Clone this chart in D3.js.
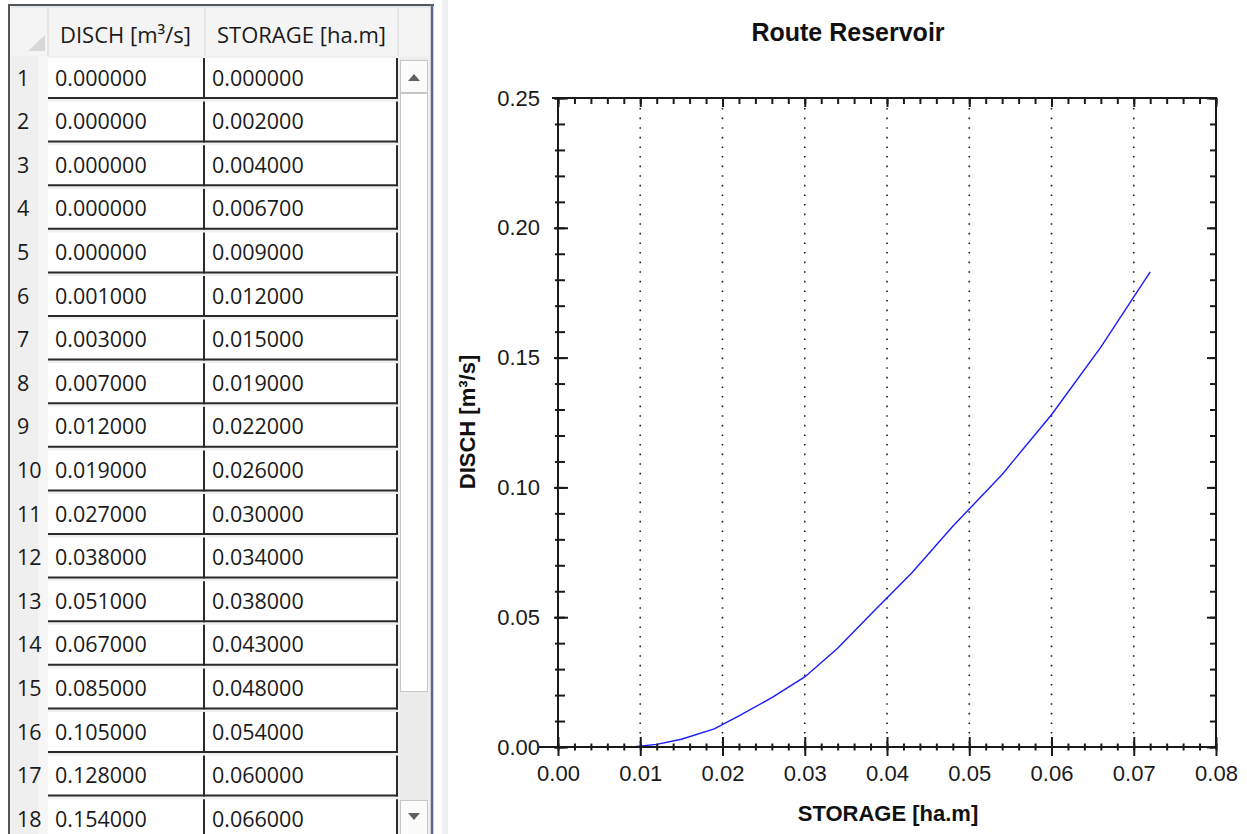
<!DOCTYPE html>
<html>
<head>
<meta charset="utf-8">
<script src="https://cdn.jsdelivr.net/npm/d3@7/dist/d3.min.js"></script>
<style>
  html, body { margin: 0; padding: 0; background: #ffffff; }
  svg { display: block; }
</style>
</head>
<body>
<svg id="view" width="1247" height="834"></svg>
<script>
// Reservoir routing table: discharge vs. storage
const columnHeaders = ["DISCH [m³/s]", "STORAGE [ha.m]"];
const disch   = [0.000, 0.000, 0.000, 0.000, 0.000, 0.001, 0.003, 0.007, 0.012, 0.019,
                 0.027, 0.038, 0.051, 0.067, 0.085, 0.105, 0.128, 0.154, 0.183];
const storage = [0.000, 0.002, 0.004, 0.0067, 0.009, 0.012, 0.015, 0.019, 0.022, 0.026,
                 0.030, 0.034, 0.038, 0.043, 0.048, 0.054, 0.060, 0.066, 0.072];

const chartTitle = "Route Reservoir";
const xTitle = "STORAGE [ha.m]";
const yTitle = "DISCH [m³/s]";
const xDomain = [0, 0.08];
const yDomain = [0, 0.25];
const xMajorTicks = [0, 0.01, 0.02, 0.03, 0.04, 0.05, 0.06, 0.07, 0.08];
const yMajorTicks = [0, 0.05, 0.10, 0.15, 0.20, 0.25];
const gridTicks = [0.01, 0.02, 0.03, 0.04, 0.05, 0.06, 0.07];

const svg = d3.select("#view");
const fmtCell = d3.format(".6f");

// ---------------- data grid panel ----------------
const grid = svg.append("g").attr("class", "grid-panel");
const tableFont = "'Open Sans', 'Noto Sans', sans-serif";

// panel background and frame
grid.append("rect").attr("x", 8).attr("y", 4).attr("width", 426).attr("height", 840)
  .attr("fill", "#f0f0f0");
// header band
grid.append("rect").attr("x", 10).attr("y", 7).attr("width", 422).attr("height", 49)
  .attr("fill", "#f4f4f4");
// row-number column
grid.append("rect").attr("x", 10).attr("y", 56).attr("width", 38).attr("height", 790)
  .attr("fill", "#efefef");
grid.append("rect").attr("x", 38).attr("y", 56).attr("width", 10).attr("height", 790)
  .attr("fill", "#f6f6f6");
// corner triangle
grid.append("path").attr("d", "M28,51 L45,51 L45,35 Z").attr("fill", "#d8d8d8");

const colX = [48, 205, 398];
// header separators + labels
colX.forEach(xv => {
  grid.append("line").attr("x1", xv).attr("x2", xv).attr("y1", 8).attr("y2", 56)
    .attr("stroke", "#e2e2e2").attr("stroke-width", 1.5);
});
grid.selectAll("text.hdr").data(columnHeaders).join("text")
  .attr("class", "hdr")
  .attr("x", (d, i) => colX[i] + 12)
  .attr("y", 43)
  .attr("font-family", tableFont).attr("font-size", 22).attr("fill", "#1a1a1a")
  .text(d => d);

// body rows
const rowTop = i => 58 + i * 43.6;
const rows = grid.selectAll("g.row").data(disch.map((d, i) => ({ d, s: storage[i], i })))
  .join("g").attr("class", "row")
  .attr("transform", r => `translate(0,${rowTop(r.i)})`);

rows.append("rect").attr("x", 48).attr("y", 0).attr("width", 350).attr("height", 40)
  .attr("fill", "#ffffff");
// cell right borders
rows.append("line").attr("x1", 204).attr("x2", 204).attr("y1", 0).attr("y2", 41)
  .attr("stroke", "#2a2a2a").attr("stroke-width", 2);
rows.append("line").attr("x1", 397).attr("x2", 397).attr("y1", 0).attr("y2", 41)
  .attr("stroke", "#2a2a2a").attr("stroke-width", 2);
// cell bottom border
rows.append("line").attr("x1", 48).attr("x2", 398).attr("y1", 40).attr("y2", 40)
  .attr("stroke", "#2a2a2a").attr("stroke-width", 2);
// row number and cell values
const textBase = 27.5;
rows.append("text").attr("x", 17).attr("y", textBase)
  .attr("font-family", tableFont).attr("font-size", 21.5).attr("fill", "#1a1a1a")
  .text(r => r.i + 1);
rows.append("text").attr("x", 55).attr("y", textBase)
  .attr("font-family", tableFont).attr("font-size", 21.5).attr("fill", "#1a1a1a")
  .text(r => fmtCell(r.d));
rows.append("text").attr("x", 212).attr("y", textBase)
  .attr("font-family", tableFont).attr("font-size", 21.5).attr("fill", "#1a1a1a")
  .text(r => fmtCell(r.s));

// vertical scrollbar
const sb = grid.append("g").attr("class", "scrollbar");
sb.append("rect").attr("x", 400).attr("y", 58).attr("width", 28).attr("height", 780)
  .attr("fill", "#ebebeb");
sb.append("rect").attr("x", 400.5).attr("y", 60.5).attr("width", 27).attr("height", 32)
  .attr("fill", "#fbfbfb").attr("stroke", "#c6c6c6");
sb.append("path").attr("d", "M408,81 L420,81 L414,74 Z").attr("fill", "#606060");
sb.append("rect").attr("x", 400.5).attr("y", 93.5).attr("width", 27).attr("height", 598)
  .attr("fill", "#ffffff").attr("stroke", "#c6c6c6");
sb.append("rect").attr("x", 400.5).attr("y", 800.5).attr("width", 27).attr("height", 40)
  .attr("fill", "#fbfbfb").attr("stroke", "#c6c6c6");
sb.append("path").attr("d", "M408,813 L420,813 L414,820 Z").attr("fill", "#606060");

// frame lines
grid.append("line").attr("x1", 9).attr("x2", 9).attr("y1", 4).attr("y2", 834)
  .attr("stroke", "#555555").attr("stroke-width", 2);
grid.append("line").attr("x1", 8).attr("x2", 434).attr("y1", 5).attr("y2", 5)
  .attr("stroke", "#555555").attr("stroke-width", 2);
grid.append("line").attr("x1", 432).attr("x2", 432).attr("y1", 4).attr("y2", 834)
  .attr("stroke", "#56698a").attr("stroke-width", 2.5);
grid.append("line").attr("x1", 11).attr("x2", 430).attr("y1", 7).attr("y2", 7)
  .attr("stroke", "#d5e1ee").attr("stroke-width", 1);
// splitter strip
svg.append("rect").attr("x", 442).attr("y", 0).attr("width", 6).attr("height", 834)
  .attr("fill", "#f0f0f0");

// ---------------- chart ----------------
const chartFont = "'Liberation Sans', Arial, sans-serif";
const x = d3.scaleLinear().domain(xDomain).range([558, 1216]);
const y = d3.scaleLinear().domain(yDomain).range([747, 98]);
const chart = svg.append("g").attr("class", "chart");

const xMinor = d3.range(0, 41).map(i => +(i * 0.002).toFixed(3));
const yMinor = d3.range(0, 26).map(i => +(i * 0.01).toFixed(2));

// dotted vertical grid
chart.selectAll("line.vgrid").data(gridTicks).join("line")
  .attr("class", "vgrid")
  .attr("x1", d => x(d)).attr("x2", d => x(d))
  .attr("y1", y(yDomain[1]) + 10).attr("y2", y(0))
  .attr("stroke", "#222").attr("stroke-width", 1.6)
  .attr("stroke-dasharray", "1.6,8");

// series line
const line = d3.line().x((d, i) => x(storage[i])).y(d => y(d));
chart.append("path").datum(disch)
  .attr("d", line)
  .attr("fill", "none").attr("stroke", "#1a1aff").attr("stroke-width", 1.4);

// helper: style an axis group
function styleAxis(g) {
  g.selectAll(".domain").remove();
  g.selectAll("line").attr("stroke", "#1a1a1a").attr("stroke-width", 2);
  g.selectAll("text").attr("font-family", chartFont).attr("font-size", 22).attr("fill", "#1a1a1a");
}

// bottom: minor ticks crossing the axis
chart.append("g").attr("transform", `translate(0,${y(0)})`)
  .call(d3.axisBottom(x).tickValues(xMinor).tickSize(3.5).tickFormat(""))
  .call(styleAxis)
  .call(g => g.selectAll("line").attr("y1", -3.5));
chart.append("g").attr("transform", `translate(0,${y(0)})`)
  .call(d3.axisBottom(x).tickValues(xMajorTicks).tickSize(9).tickPadding(9)
    .tickFormat(d3.format(".2f")))
  .call(styleAxis)
  .call(g => g.selectAll("line").attr("y1", -10));

// top: inward ticks
chart.append("g").attr("transform", `translate(0,${y(yDomain[1])})`)
  .call(d3.axisBottom(x).tickValues(xMinor).tickSize(6).tickFormat(""))
  .call(styleAxis);
chart.append("g").attr("transform", `translate(0,${y(yDomain[1])})`)
  .call(d3.axisBottom(x).tickValues(xMajorTicks).tickSize(9).tickFormat(""))
  .call(styleAxis);

// left: ticks mostly inward, labels outside
chart.append("g").attr("transform", `translate(${x(0)},0)`)
  .call(d3.axisRight(y).tickValues(yMinor).tickSize(7).tickFormat(""))
  .call(styleAxis)
  .call(g => g.selectAll("line").attr("x1", -3));
chart.append("g").attr("transform", `translate(${x(0)},0)`)
  .call(d3.axisLeft(y).tickValues(yMajorTicks).tickSize(4).tickPadding(14)
    .tickFormat(d3.format(".2f")))
  .call(styleAxis)
  .call(g => g.selectAll("line").attr("x2", 10).attr("x1", -4));

// right: inward ticks
chart.append("g").attr("transform", `translate(${x(xDomain[1])},0)`)
  .call(d3.axisLeft(y).tickValues(yMinor).tickSize(6).tickFormat(""))
  .call(styleAxis);
chart.append("g").attr("transform", `translate(${x(xDomain[1])},0)`)
  .call(d3.axisLeft(y).tickValues(yMajorTicks).tickSize(9).tickFormat(""))
  .call(styleAxis);

// frame lines of the plot area
const frame = [
  [x(0), y(0), x(0), y(yDomain[1])],
  [x(0), y(yDomain[1]), x(xDomain[1]), y(yDomain[1])],
  [x(xDomain[1]), y(yDomain[1]), x(xDomain[1]), y(0)],
  [x(0) - 18, y(0), x(xDomain[1]), y(0)]
];
chart.selectAll("line.frame").data(frame).join("line").attr("class", "frame")
  .attr("x1", d => d[0]).attr("y1", d => d[1]).attr("x2", d => d[2]).attr("y2", d => d[3])
  .attr("stroke", "#1a1a1a").attr("stroke-width", 2).attr("stroke-linecap", "square");
// top border starts a little left of the axis too
chart.append("line").attr("x1", x(0) - 6).attr("x2", x(0)).attr("y1", y(yDomain[1])).attr("y2", y(yDomain[1]))
  .attr("stroke", "#1a1a1a").attr("stroke-width", 2);

// titles
chart.append("text").attr("x", 848).attr("y", 41).attr("text-anchor", "middle")
  .attr("font-family", chartFont).attr("font-weight", "bold").attr("font-size", 25)
  .attr("fill", "#111").text(chartTitle);
chart.append("text").attr("x", 888).attr("y", 821).attr("text-anchor", "middle")
  .attr("font-family", chartFont).attr("font-weight", "bold").attr("font-size", 22)
  .attr("fill", "#111").text(xTitle);
chart.append("text").attr("transform", "translate(475,422) rotate(-90)").attr("text-anchor", "middle")
  .attr("font-family", chartFont).attr("font-weight", "bold").attr("font-size", 22)
  .attr("fill", "#111").text(yTitle);
</script>
</body>
</html>
